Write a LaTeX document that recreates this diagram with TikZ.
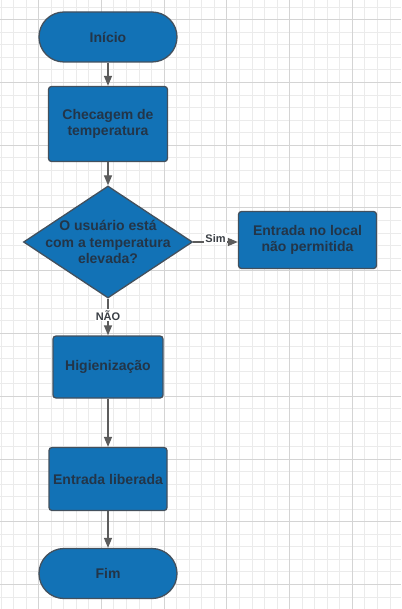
\documentclass[tikz,border=0pt]{standalone}
\usepackage{fontspec}
\setmainfont{Liberation Sans}
\usetikzlibrary{shapes.geometric,arrows.meta}
\definecolor{caixa}{HTML}{1272B6}
\definecolor{borda}{HTML}{43505D}
\definecolor{texto}{HTML}{233548}
\definecolor{rot}{HTML}{3A3F45}
\definecolor{seta}{HTML}{5C5C5C}
\definecolor{gradefina}{HTML}{EBEBEB}
\definecolor{gradegrossa}{HTML}{D4D4D4}

\begin{document}
\begin{tikzpicture}[x=1pt,y=-1pt,
        bloco/.style={draw=borda, line width=1.3pt, fill=caixa, text=texto, align=center, inner sep=0pt,
                font=\bfseries\fontsize{14}{16.5}\selectfont},
        processo/.style={bloco, rounded corners=3pt},
        terminal/.style={bloco, rounded corners=25pt, minimum width=138pt, minimum height=50pt},
        decisao/.style={bloco, diamond, minimum width=169pt, minimum height=112pt},
        fluxo/.style={draw=seta, line width=1.3pt, -{Triangle[length=10pt,width=8pt]}},
        rotulo/.style={fill=white, text=rot, inner sep=1pt, font=\bfseries\fontsize{11}{12}\selectfont}]

        % Grade.
        \useasboundingbox[fill=white] (0,0) rectangle (401,609);
        \foreach \i in {0,...,31} {\draw[gradefina, line width=0.6pt] (0.8+12.55*\i,0) -- ++(0,609);}
        \foreach \i in {0,...,48} {\draw[gradefina, line width=0.6pt] (0,7+12.55*\i) -- ++(401,0);}
        \foreach \i in {3,8,...,31} {\draw[gradegrossa, line width=0.6pt] (0.8+12.55*\i,0) -- ++(0,609);}
        \foreach \i in {1,6,...,48} {\draw[gradegrossa, line width=0.6pt] (0,7+12.55*\i) -- ++(401,0);}

        % Blocos.
        \node[terminal] (inicio) at (108,37) {Início};
        \node[processo, minimum width=119pt, minimum height=75pt] (checagem) at (108,124) {Checagem de\\temperatura};
        \node[decisao] (pergunta) at (108,242) {};
        \node[text=texto, align=center, font=\bfseries\fontsize{14}{16.5}\selectfont] (perguntatxt) at (pergunta)
                {O usuário está\\com a temperatura\\elevada?};
        \node[processo, minimum width=138pt, minimum height=57pt] (naopermitida) at (307.5,240) {Entrada no local\\não permitida};
        \node[processo, minimum width=110pt, minimum height=62pt] (higienizacao) at (108,367) {Higienização};
        \node[processo, minimum width=118pt, minimum height=63pt] (liberada) at (108,479) {Entrada liberada};
        \node[terminal] (fim) at (108,573.5) {Fim};

        % Setas.
        \draw[fluxo] (inicio) -- (checagem);
        \draw[fluxo] (checagem) -- (pergunta);
        \draw[fluxo] (pergunta.east) -- (pergunta.east -| naopermitida.west)
                node[rotulo, anchor=base, pos=0.5] (sim) {Sim};
        \draw[fluxo] (pergunta.south) -- (higienizacao.north)
                node[rotulo, pos=0.45] (nao) {NÃO};
        \draw[fluxo] (higienizacao) -- (liberada);
        \draw[fluxo] (liberada) -- (fim);
\end{tikzpicture}
\end{document}
